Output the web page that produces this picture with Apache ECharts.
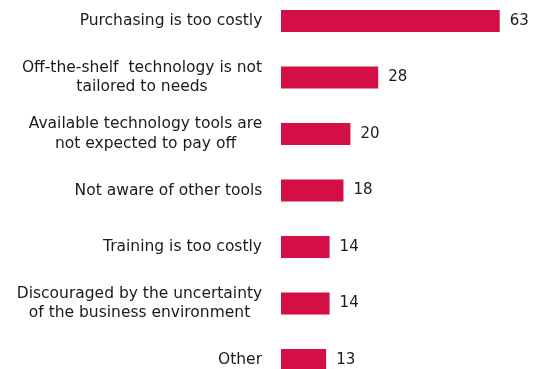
<!DOCTYPE html>
<html>
<head>
<meta charset="utf-8">
<script src="https://cdn.jsdelivr.net/npm/echarts@6/dist/echarts.min.js"></script>
<style>
  html, body { margin: 0; padding: 0; background: #fff; }
  #chart { width: 538px; height: 369px; }
</style>
</head>
<body>
<div id="chart"></div>
<script>
// Reasons for not adopting technology tools (share of respondents)
const categories = [
  'Purchasing is too costly',
  'Off-the-shelf  technology is not\ntailored to needs',
  'Available technology tools are\nnot expected to pay off',
  'Not aware of other tools',
  'Training is too costly',
  'Discouraged by the uncertainty\nof the business environment',
  'Other'
];
const values = [63, 28, 20, 18, 14, 14, 13];

const FONT = 'DejaVu Sans';
const LABEL_SIZE = 15.5;
const LABEL_COLOR = '#1a1a1a';

// Multi-line labels: each line is a fixed-width rich fragment as wide as
// the label's longest line, so the lines are centred on one another while
// the whole block stays right-aligned against the axis.
const ctx = document.createElement('canvas').getContext('2d');
ctx.font = LABEL_SIZE + 'px "' + FONT + '"';
const rich = {};
categories.forEach((c, i) => {
  const w = Math.max(...c.split('\n').map(l => ctx.measureText(l).width));
  rich['l' + i] = {
    width: Math.ceil(w) + 1, align: 'center', color: LABEL_COLOR,
    fontFamily: FONT, fontSize: LABEL_SIZE, lineHeight: 19.5
  };
});

const chart = echarts.init(document.getElementById('chart'));
chart.setOption({
  animation: false,
  // category ticks sit on the band edges so the first and last bars
  // land at the top and bottom of the grid
  grid: {
    left: 281, top: 21, width: 243, height: 339,
    containLabel: false, outerBoundsMode: 'none'
  },
  xAxis: {
    type: 'value', min: 0, max: 70, show: false
  },
  yAxis: {
    type: 'category', data: categories, inverse: true, boundaryGap: false,
    axisLine: { show: false }, axisTick: { show: false },
    axisLabel: {
      margin: 18, align: 'right', color: LABEL_COLOR,
      fontFamily: FONT, fontSize: LABEL_SIZE, lineHeight: 19.5,
      formatter: (value, index) =>
        value.split('\n').map(l => '{l' + index + '|' + l + '}').join('\n'),
      rich: rich
    }
  },
  series: [{
    type: 'bar', data: values, barWidth: 22,
    itemStyle: { color: '#D30F45' },
    label: {
      show: true, position: 'right', distance: 10,
      color: LABEL_COLOR, fontFamily: FONT, fontSize: 15
    }
  }]
});
</script>
</body>
</html>
